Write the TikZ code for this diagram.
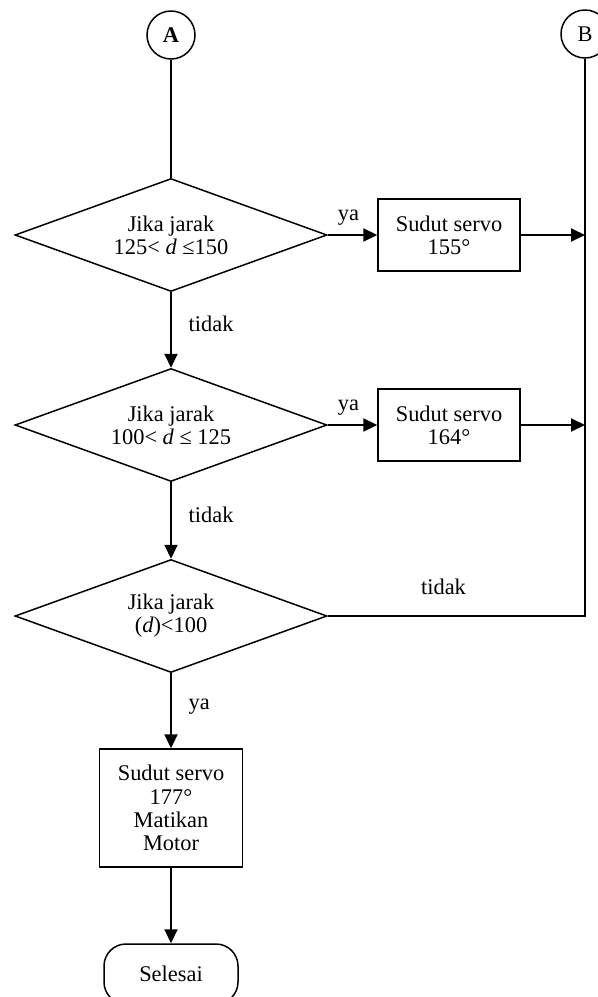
\documentclass[tikz,border=0pt]{standalone}
\usepackage{fontspec}
\setmainfont{Liberation Serif}
\usetikzlibrary{arrows.meta, positioning, shapes.geometric}

\begin{document}
\begin{tikzpicture}[x=0.5pt, y=-0.5pt,
    every node/.style={font=\fontsize{11.2}{11.6}\selectfont, align=center},
    decision/.style={draw, line width=0.75pt, diamond, aspect=2.76, minimum width=156pt, minimum height=56.5pt, inner sep=0pt},
    process/.style={draw, line width=0.7pt, minimum width=71pt, minimum height=36pt, inner sep=2pt},
    connector/.style={draw, line width=0.75pt, circle, minimum size=24pt, inner sep=0pt},
    terminal/.style={draw, line width=0.75pt, rounded corners=11pt, minimum width=67pt, minimum height=30pt},
    flow/.style={line width=1pt, -{Triangle[length=7pt, width=6.5pt]}},
    link/.style={line width=0.75pt}]
    \useasboundingbox (0,0) rectangle (598,997);
    \clip (0,0) rectangle (598,997);

    % Connectors
    \node[connector] (A) at (171,35) {\textbf{A}};
    \node[connector] (B) at (585,34) {B};

    % First check
    \node[decision] (cek1) at (171,235) {Jika jarak\\125< \textit{d} ≤150};
    \node[process] (servo1) at (449,235) {Sudut servo\\155°};

    % Second check
    \node[decision] (cek2) at (171,425) {Jika jarak\\100< \textit{d} ≤ 125};
    \node[process] (servo2) at (449,425) {Sudut servo\\164°};

    % Third check
    \node[decision] (cek3) at (171,616) {Jika jarak\\(\textit{d})<100};
    \node[process, minimum width=71.5pt, minimum height=59pt] (servo3) at (171,808) {Sudut servo\\177°\\Matikan\\Motor};

    % End
    \node[terminal] (selesai) at (171,974) {Selesai};

    % Arrows
    \draw[link] (A) -- (cek1);
    \draw[flow] (cek1.east) -- node[above, xshift=-2pt, yshift=1pt] {ya} (servo1.west);
    \draw[flow] (servo1.east) -- (B |- servo1.east);
    \draw[flow] (cek1.south) -- node[right, xshift=5pt, yshift=3pt] {tidak} (cek2.north);
    \draw[flow] (cek2.east) -- node[above, xshift=-2pt, yshift=1pt] {ya} (servo2.west);
    \draw[flow] (servo2.east) -- (B |- servo2.east);
    \draw[flow] (cek2.south) -- node[right, xshift=5pt, yshift=3pt] {tidak} (cek3.north);
    \draw[link] (cek3.east) -- node[above, pos=0.45, yshift=7pt] {tidak} (B |- cek3.east) -- (B.south);
    \draw[flow] (cek3.south) -- node[right, xshift=5pt, yshift=2pt] {ya} (servo3.north);
    \draw[flow] (servo3.south) -- (selesai.north);
\end{tikzpicture}
\end{document}
